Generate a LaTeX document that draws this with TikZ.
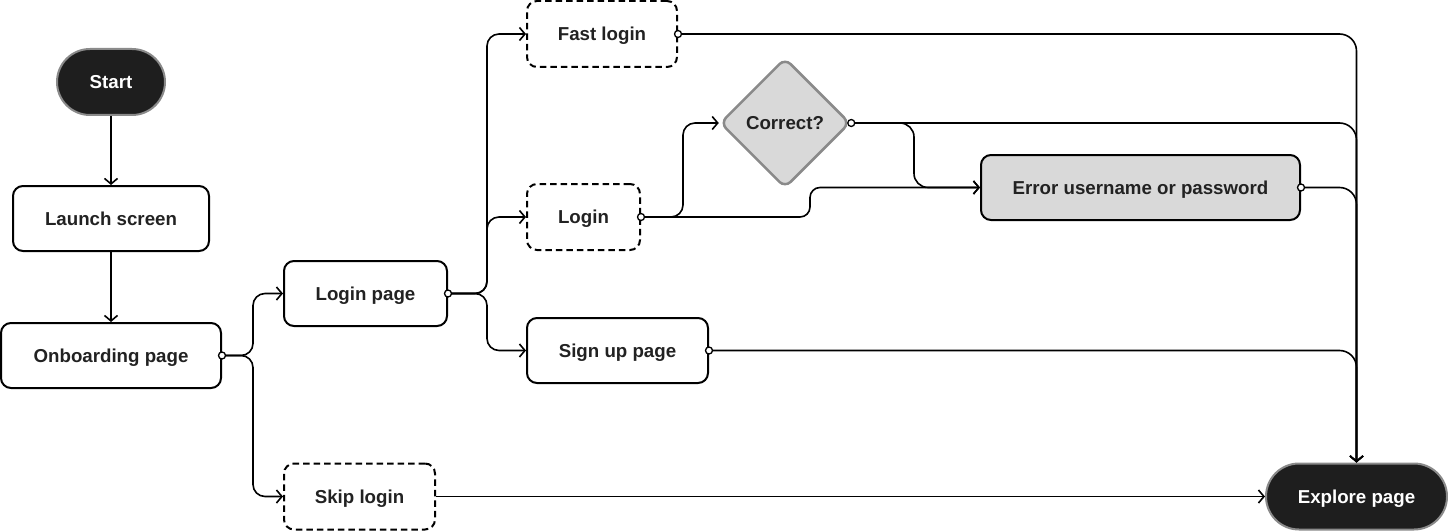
\documentclass[tikz,border=0pt]{standalone}
\usepackage{fontspec}
\setmainfont{Liberation Sans}
\usetikzlibrary{arrows.meta,shapes.geometric}
\definecolor{ink}{HTML}{222222}
\definecolor{darkfill}{HTML}{1E1E1E}
\definecolor{grayfill}{HTML}{D9D9D9}
\definecolor{grayedge}{HTML}{8A8A8A}
\begin{document}
\begin{tikzpicture}[x=1pt,y=-1pt,
  every node/.style={font=\fontsize{18.7}{21}\selectfont\bfseries, text=ink, inner sep=0pt,
    text height=13.4pt, text depth=0pt},
  box/.style={draw=black, line width=2pt, rounded corners=10pt, fill=white},
  dbox/.style={box, dash pattern=on 6.5pt off 4pt},
  term/.style={draw=grayedge, line width=2pt, fill=darkfill, text=white, rounded corners=33pt},
  dec/.style={diamond, draw=grayedge, line width=2.5pt, fill=grayfill, rounded corners=8pt,
    minimum width=130pt, minimum height=130pt, aspect=1},
  conn/.style={draw=black, line width=1.6pt, -{Straight Barb[length=5.5pt,width=13pt]}},
  dot/.style={circle, draw=black, fill=white, line width=1.3pt, minimum size=7pt, inner sep=0pt,
    text height=0pt, text depth=0pt}
]
\fill[white] (0,0) rectangle (1448,532);
\useasboundingbox (0,0) rectangle (1448,532);

\node[term, minimum width=108pt, minimum height=66pt] (start) at (111,82) {Start};
\node[box, minimum width=196pt, minimum height=65pt] (launch) at (111,218.5) {Launch screen};
\node[box, minimum width=220pt, minimum height=65pt] (onb) at (111,355.5) {Onboarding page};
\node[box, minimum width=163pt, minimum height=65pt] (lp) at (365.5,293.5) {Login page};
\node[dbox, minimum width=151pt, minimum height=66pt] (skip) at (359.5,496.5) {Skip login};
\node[dbox, minimum width=150pt, minimum height=66pt] (fast) at (602,34) {Fast login};
\node[dbox, minimum width=113pt, minimum height=66pt] (login) at (583.5,217) {Login};
\node[box, minimum width=181pt, minimum height=65pt] (signup) at (617.5,350.5) {Sign up page};
\node[dec] (corr) at (785,123) {Correct?};
\node[box, fill=grayfill, minimum width=319pt, minimum height=65pt] (err) at (1140.5,187.5) {Error username or password};
\node[term, minimum width=181pt, minimum height=66pt] (exp) at (1356.5,496.5) {Explore page};

\draw[conn] (start) -- (launch);
\draw[conn] (launch) -- (onb);
\draw[conn, rounded corners=12pt] (onb.east) -- (253,355.5) |- (lp.west);
\draw[conn, rounded corners=12pt] (onb.east) -- (253,355.5) |- (skip.west);
\draw[conn, rounded corners=12pt] (lp.east) -- (487,293.5) |- (fast.west);
\draw[conn, rounded corners=12pt] (lp.east) -- (487,293.5) |- (login.west);
\draw[conn, rounded corners=12pt] (lp.east) -- (487,293.5) |- (signup.west);
\draw[conn, rounded corners=12pt] (login.east) -- (683,217) |- (corr.west);
\draw[conn, rounded corners=10pt] (login.east) -- (810,217) |- (err.west);
\draw[conn, rounded corners=14pt] (corr.east) -- (914,123) |- (err.west);
\draw[conn, rounded corners=17pt] (fast.east) -| (exp.north);
\draw[conn, rounded corners=17pt] (corr.east) -| (exp.north);
\draw[conn, rounded corners=17pt] (err.east) -| (exp.north);
\draw[conn, rounded corners=17pt] (signup.east) -| (exp.north);
\draw[conn] (skip.east) -- (exp.west);

\foreach \n in {onb, lp, login, corr, fast, err, signup}
  \node[dot] at (\n.east) {};
\end{tikzpicture}
\end{document}
